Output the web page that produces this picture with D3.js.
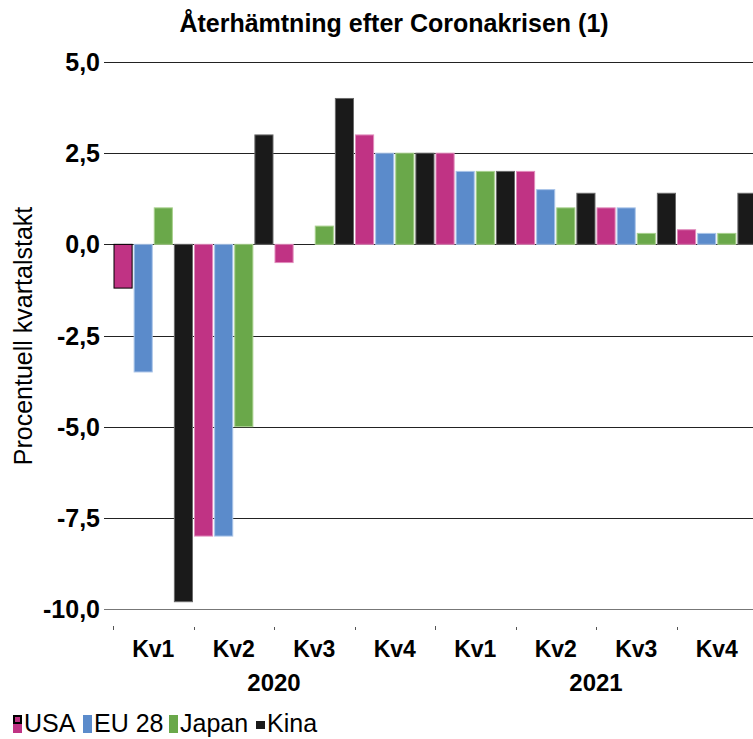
<!DOCTYPE html>
<html>
<head>
<meta charset="utf-8">
<script src="https://cdn.jsdelivr.net/npm/d3@7"></script>
<style>
  body { margin: 0; background: #fff; }
  text { font-family: "Liberation Sans", Arial, sans-serif; fill: #000; }
</style>
</head>
<body>
<svg id="chart" width="753" height="739"></svg>
<script>
// chart data
var quarters = ["2020-Kv1", "2020-Kv2", "2020-Kv3", "2020-Kv4", "2021-Kv1", "2021-Kv2", "2021-Kv3", "2021-Kv4"];
var quarterLabels = ["Kv1", "Kv2", "Kv3", "Kv4", "Kv1", "Kv2", "Kv3", "Kv4"];
var years = ["2020", "2021"];
var seriesNames = ["USA", "EU 28", "Japan", "Kina"];
var usa = [-1.2, -8.0, -0.5, 3.0, 2.5, 2.0, 1.0, 0.4];
var eu28 = [-3.5, -8.0, 0.0, 2.5, 2.0, 1.5, 1.0, 0.3];
var japan = [1.0, -5.0, 0.5, 2.5, 2.0, 1.0, 0.3, 0.3];
var kina = [-9.8, 3.0, 4.0, 2.5, 2.0, 1.4, 1.4, 1.4];
var yTicks = [5, 2.5, 0, -2.5, -5, -7.5, -10];
var colors = ["#c03384", "#5b8bcb", "#6aa84a", "#1a1a1a"];
var edgeColors = ["#e08bbb", "#a9c4e8", "#a8d08e", "#6a6a6a"];

var seriesValues = [usa, eu28, japan, kina];

var svg = d3.select("#chart");

// scales
var x0 = d3.scaleBand()
    .domain(quarters)
    .range([113, 113 + 8 * 80.5]);
var x1 = d3.scaleBand()
    .domain(seriesNames)
    .range([0, x0.bandwidth()])
    .paddingInner(0.1)
    .paddingOuter(0.05);
var y = d3.scaleLinear()
    .domain([-10, 5])
    .range([609, 62]);

var locale = d3.formatLocale({decimal: ",", thousands: " ", grouping: [3], currency: ["", " kr"], minus: "-"});
var fmt = locale.format(".1f");

// title
svg.append("text")
    .attr("x", 394)
    .attr("y", 32)
    .attr("text-anchor", "middle")
    .style("font-weight", "bold")
    .style("font-size", "25px")
    .text("Återhämtning efter Coronakrisen (1)");

// gridlines + y labels
var grid = svg.append("g").attr("class", "grid");
grid.selectAll("line")
    .data(yTicks)
    .enter()
    .append("line")
    .attr("x1", 104)
    .attr("x2", 753)
    .attr("y1", function(d) { return Math.round(y(d)) + 0.5; })
    .attr("y2", function(d) { return Math.round(y(d)) + 0.5; })
    .attr("stroke", function(d) { return d == -10 ? "#777" : "#222"; })
    .attr("stroke-width", 1);

svg.append("g").selectAll("text")
    .data(yTicks)
    .enter()
    .append("text")
    .attr("x", 100)
    .attr("y", function(d) { return y(d); })
    .attr("dy", "0.36em")
    .attr("text-anchor", "end")
    .style("font-weight", "bold")
    .style("font-size", "25px")
    .text(function(d) { return fmt(d); });

// y axis title
svg.append("text")
    .attr("transform", "translate(32,336) rotate(-90)")
    .attr("text-anchor", "middle")
    .style("font-size", "25px")
    .text("Procentuell kvartalstakt");

// bars
var groups = svg.append("g").attr("class", "bars")
    .selectAll("g")
    .data(quarters)
    .enter()
    .append("g")
    .attr("transform", function(d) { return "translate(" + x0(d) + ",0)"; });

groups.selectAll("rect")
    .data(function(q, qi) {
        return seriesNames.map(function(s, si) {
            return {series: s, si: si, qi: qi, value: seriesValues[si][qi]};
        });
    })
    .enter()
    .append("rect")
    .attr("x", function(d) { return x1(d.series); })
    .attr("width", x1.bandwidth())
    .attr("y", function(d) { return y(Math.max(0, d.value)); })
    .attr("height", function(d) { return Math.abs(y(d.value) - y(0)); })
    .attr("fill", function(d) { return colors[d.si]; })
    .attr("stroke", function(d) {
        return (d.si == 0 && d.qi == 0) ? "#000" : edgeColors[d.si];
    })
    .attr("stroke-width", 1);

// x axis ticks
var xTicks = svg.append("g").attr("class", "xticks");
xTicks.selectAll("line")
    .data(quarters)
    .enter()
    .append("line")
    .attr("x1", function(d) { return Math.round(x0(d)) + 0.5; })
    .attr("x2", function(d) { return Math.round(x0(d)) + 0.5; })
    .attr("y1", function(d, i) { return i % 4 == 0 ? 626 : 627; })
    .attr("y2", 630)
    .attr("stroke", "#555");

svg.append("g").selectAll("text")
    .data(quarters)
    .enter()
    .append("text")
    .attr("x", function(d) { return x0(d) + x0.bandwidth() / 2; })
    .attr("y", 657)
    .attr("text-anchor", "middle")
    .style("font-weight", "bold")
    .style("font-size", "23px")
    .text(function(d, i) { return quarterLabels[i]; });

svg.append("g").selectAll("text")
    .data(years)
    .enter()
    .append("text")
    .attr("x", function(d, i) { return x0(quarters[i * 4 + 2]); })
    .attr("y", 691)
    .attr("text-anchor", "middle")
    .style("font-weight", "bold")
    .style("font-size", "24px")
    .text(function(d) { return d; });

// legend
var legendX = [13, 83, 169, 256];
var legend = svg.append("g").attr("class", "legend")
    .selectAll("g")
    .data(seriesNames)
    .enter()
    .append("g")
    .attr("transform", function(d, i) { return "translate(" + legendX[i] + ",715)"; });

legend.append("rect")
    .attr("x", 0)
    .attr("y", function(d, i) { return i == 3 ? 6 : 0; })
    .attr("width", 9)
    .attr("height", function(d, i) { return i == 3 ? 8 : 18; })
    .attr("fill", function(d, i) { return colors[i]; });

legend.filter(function(d, i) { return i == 0; })
    .append("rect")
    .attr("x", 1)
    .attr("y", 1)
    .attr("width", 7)
    .attr("height", 7)
    .attr("fill", "none")
    .attr("stroke", "#000")
    .attr("stroke-width", 2);

legend.append("text")
    .attr("x", 11)
    .attr("y", 17)
    .style("font-size", "25px")
    .text(function(d) { return d; });
</script>
</body>
</html>
